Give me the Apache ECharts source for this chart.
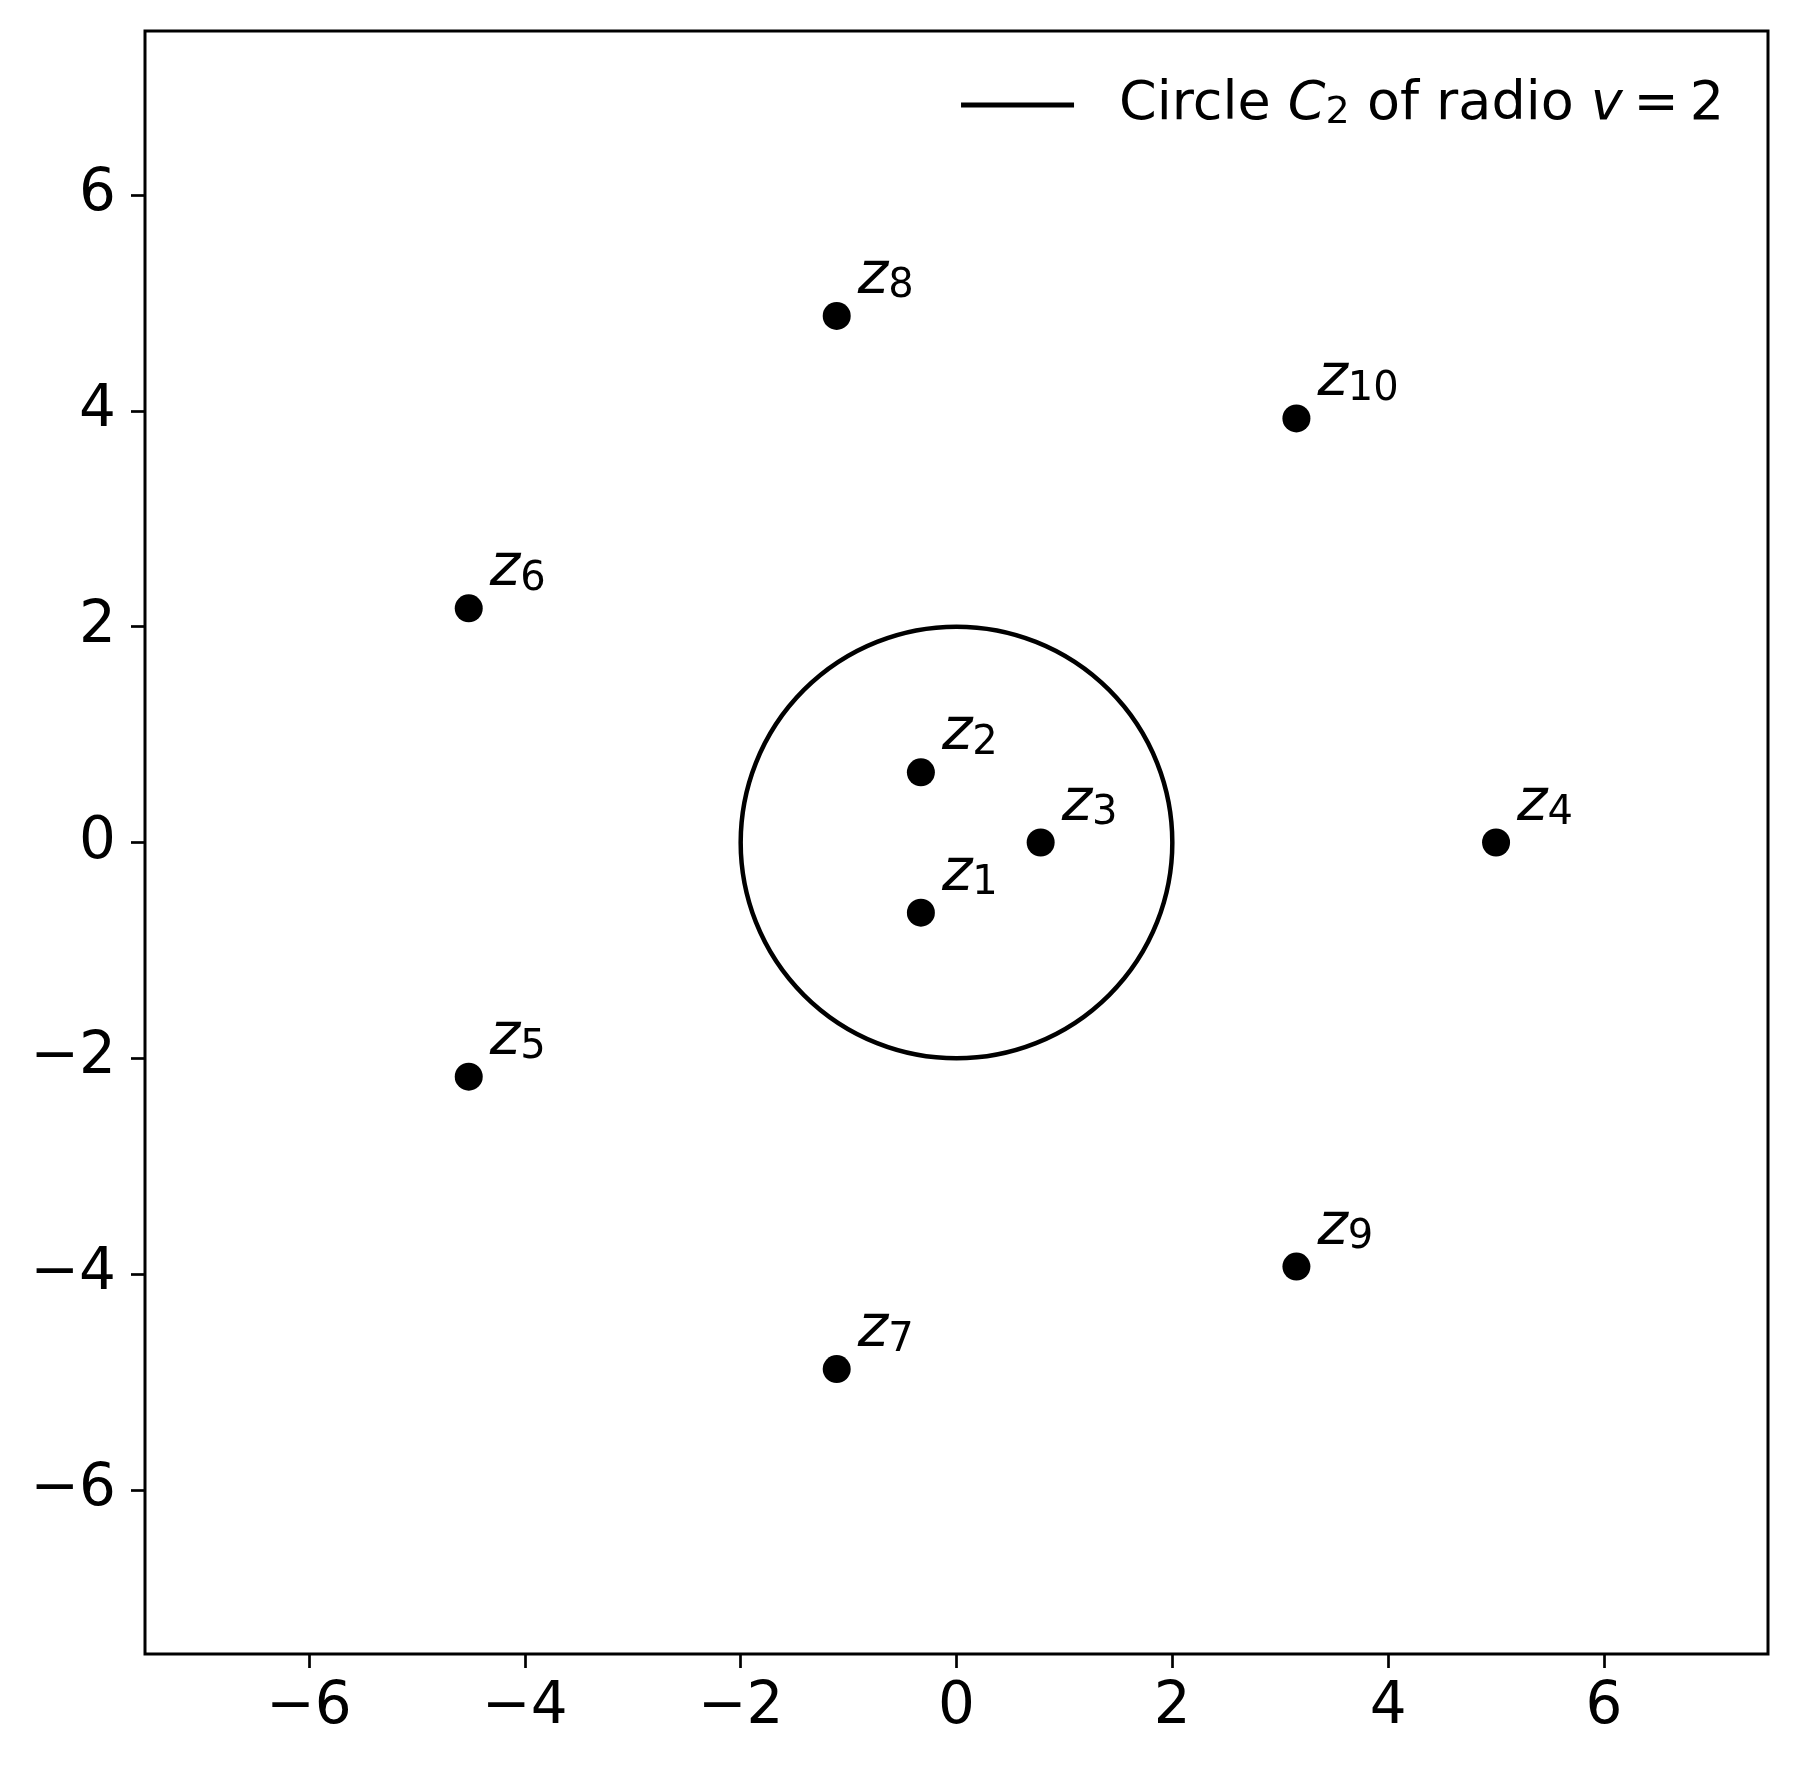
<!DOCTYPE html>
<html>
<head>
<meta charset="utf-8">
<script src="https://cdn.jsdelivr.net/npm/echarts@6/dist/echarts.min.js"></script>
<style>
  html, body { margin: 0; padding: 0; background: #fff; }
  #chart { width: 1799px; height: 1770px; }
</style>
</head>
<body>
<div id="chart"></div>
<script>
// roots z_k
const pointX = [-0.33, -0.33, 0.78, 5.0, -4.52, -4.52, -1.11, -1.11, 3.15, 3.15];
const pointY = [-0.65, 0.65, 0.0, 0.0, -2.17, 2.17, -4.88, 4.88, -3.93, 3.93];
const pointSub = ['1', '2', '3', '4', '5', '6', '7', '8', '9', '10'];

// circle C_2
const circleCenter = [0, 0];
const circleRadius = 2;

const tickValues = [-6, -4, -2, 0, 2, 4, 6];
const axisMin = -7.52;
const axisMax = 7.52;

const FONT = 'DejaVu Sans';
const seriesName = 'circle';

const chart = echarts.init(document.getElementById('chart'));

const fmtTick = (v) => String(v).replace('-', '\u2212');

function makeAxis() {
  return {
    type: 'value',
    min: axisMin,
    max: axisMax,
    splitLine: { show: false },
    axisLine: { show: false, onZero: false },
    axisTick: {
      show: true,
      customValues: tickValues,
      length: 14,
      lineStyle: { color: '#000', width: 2.7 }
    },
    axisLabel: {
      customValues: tickValues,
      formatter: fmtTick,
      fontFamily: FONT,
      fontSize: 58,
      color: '#000'
    }
  };
}

const xAxis = makeAxis();
xAxis.axisLabel.margin = 25;
const yAxis = makeAxis();
yAxis.axisLabel.margin = 29;

chart.setOption({
  animation: false,
  backgroundColor: '#fff',
  grid: {
    left: 145, right: 31, top: 31, bottom: 116,
    show: true,
    borderColor: '#000',
    borderWidth: 3,
    backgroundColor: 'transparent'
  },
  xAxis: xAxis,
  yAxis: yAxis,
  legend: {
    right: 70,
    top: 73,
    data: [{ name: seriesName, icon: 'rect', itemStyle: { color: '#000' } }],
    itemWidth: 113,
    itemHeight: 5,
    formatter: () => 'Circle {i|C}{s|2} of radio {i|v}{n|\u2009=\u20092}',
    textStyle: {
      fontFamily: FONT,
      fontSize: 54,
      color: '#000',
      padding: [0, 0, 0, 40],
      rich: {
        i: { fontFamily: FONT, fontSize: 54, fontStyle: 'italic', color: '#000' },
        s: { fontFamily: FONT, fontSize: 38, color: '#000', lineHeight: 26, verticalAlign: 'bottom' },
        n: { fontFamily: FONT, fontSize: 54, color: '#000' }
      }
    }
  },
  series: [
    {
      name: seriesName,
      type: 'custom',
      coordinateSystem: 'cartesian2d',
      itemStyle: { color: '#000' },
      data: [[circleCenter[0], circleCenter[1], circleRadius]],
      renderItem: function (params, api) {
        const c = api.coord([api.value(0), api.value(1)]);
        const size = api.size([api.value(2), api.value(2)]);
        return {
          type: 'circle',
          shape: { cx: c[0], cy: c[1], r: size[0] },
          style: { fill: 'none', stroke: '#000', lineWidth: 4.5 }
        };
      }
    },
    {
      name: 'roots',
      type: 'scatter',
      symbol: 'circle',
      symbolSize: 28,
      itemStyle: { color: '#000', opacity: 1 },
      data: pointX.map((x, i) => [x, pointY[i], pointSub[i]]),
      label: {
        show: true,
        position: [35, 5],
        align: 'left',
        verticalAlign: 'bottom',
        formatter: (p) => '{z|z}{s|' + p.value[2] + '}',
        rich: {
          z: { fontFamily: FONT, fontSize: 58, fontStyle: 'italic', color: '#000' },
          s: { fontFamily: FONT, fontSize: 40, color: '#000', lineHeight: 22, verticalAlign: 'bottom' }
        }
      }
    }
  ]
});
</script>
</body>
</html>
